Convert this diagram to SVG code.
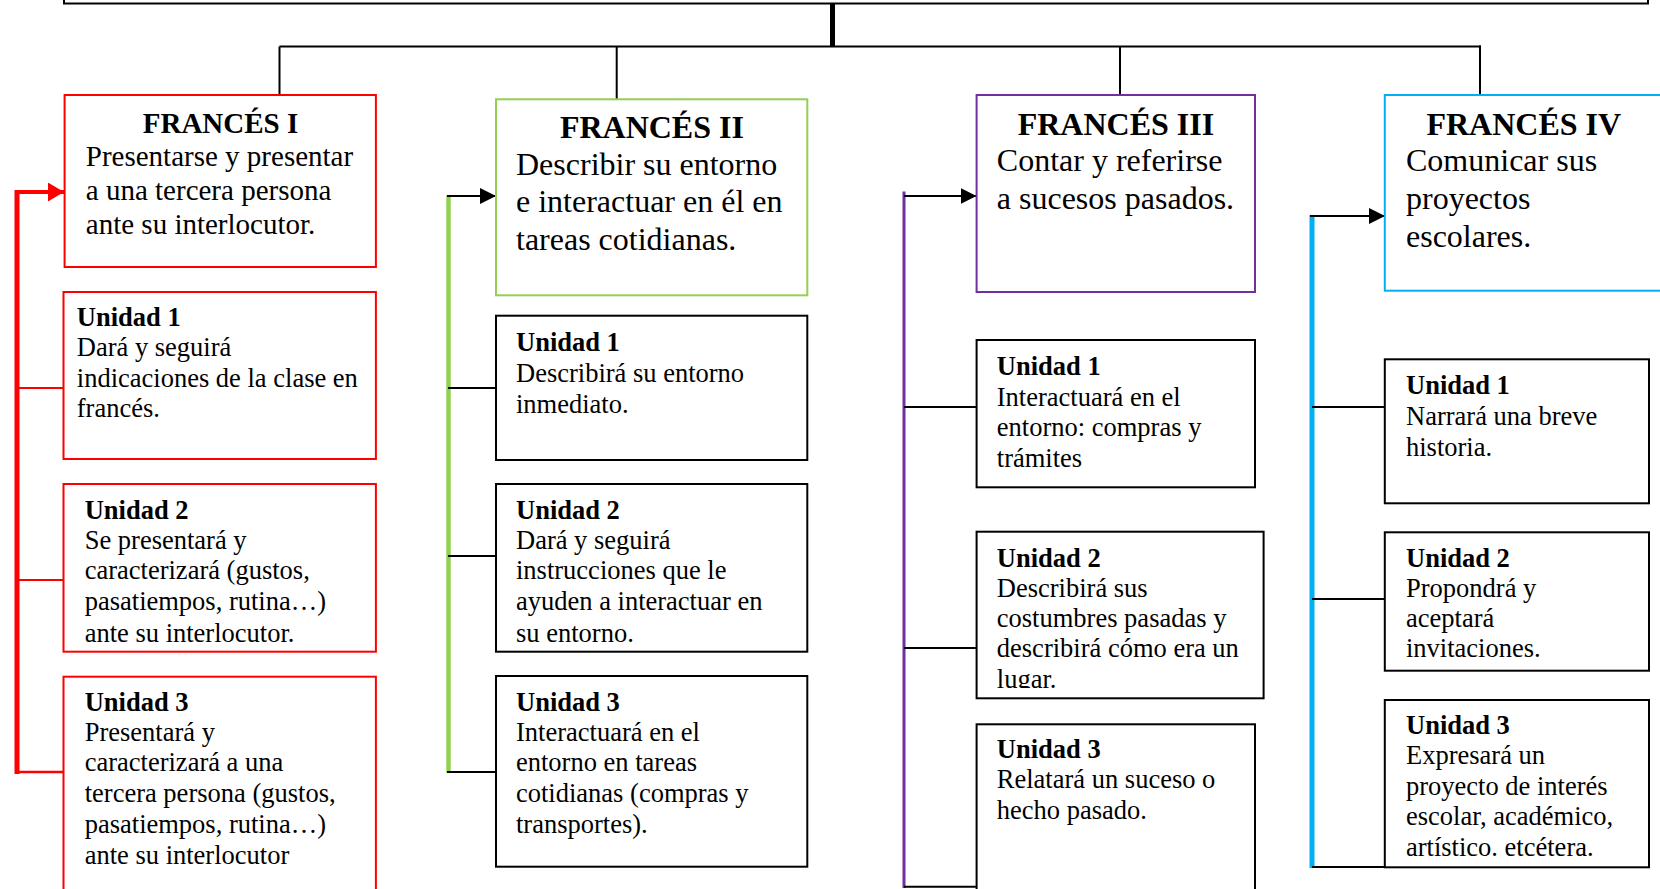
<svg xmlns="http://www.w3.org/2000/svg" width="1660" height="889" viewBox="0 0 1660 889">
  <style>
    text { font-family: "Liberation Serif", "Times New Roman", serif; fill: #000; }
    .title1 { font-size: 29px; font-weight: bold; text-anchor: middle; }
    .title { font-size: 32px; font-weight: bold; text-anchor: middle; }
    .body1 { font-size: 29px; }
    .body { font-size: 32px; }
    .unit { font-size: 26.5px; }
    .unit .h { font-weight: bold; }
    .box { fill: #fff; stroke-width: 2; }
    .k { stroke: #000; }
    .red { stroke: #ff0000; }
    .green { stroke: #92d050; }
    .purple { stroke: #7030a0; }
    .cyan { stroke: #00b0f0; }
    .line { fill: none; stroke: #000; stroke-width: 2; }
  </style>
  <defs>
    <marker id="arrowRed" markerUnits="userSpaceOnUse" markerWidth="16" markerHeight="19" refX="16" refY="9.5" orient="auto">
      <path d="M0,0 L16,9.5 L0,19 z" fill="#ff0000"/>
    </marker>
    <marker id="arrowBlack" markerUnits="userSpaceOnUse" markerWidth="16" markerHeight="16" refX="16" refY="8" orient="auto">
      <path d="M0,0 L16,8 L0,16 z" fill="#000"/>
    </marker>
    <clipPath id="clipF3U2">
      <rect x="977" y="532" width="286" height="156"/>
    </clipPath>
  </defs>

  <rect width="1660" height="889" fill="#fff"/>

  <!-- connectors -->
  <g id="connectors">
    <!-- trunk from the top box to the bus -->
    <line x1="832.5" y1="3" x2="832.5" y2="47" stroke="#000" stroke-width="5"/>
    <line class="line" x1="279.5" y1="46.5" x2="1481" y2="46.5"/>
    <line class="line" x1="279.5" y1="46.5" x2="279.5" y2="95"/>
    <line class="line" x1="616.7" y1="46.5" x2="616.7" y2="99"/>
    <line class="line" x1="1120" y1="46.5" x2="1120" y2="95"/>
    <line class="line" x1="1480" y1="45.5" x2="1480" y2="95"/>

    <!-- Francés I spine (red) -->
    <line x1="17" y1="190" x2="17" y2="774" stroke="#ff0000" stroke-width="5"/>
    <line x1="15" y1="192" x2="64" y2="192" stroke="#ff0000" stroke-width="4" marker-end="url(#arrowRed)"/>
    <line x1="17" y1="388" x2="64" y2="388" stroke="#ff0000" stroke-width="2"/>
    <line x1="17" y1="580" x2="64" y2="580" stroke="#ff0000" stroke-width="2"/>
    <line x1="15" y1="772" x2="64" y2="772" stroke="#ff0000" stroke-width="2.5"/>

    <!-- Francés II spine (green) -->
    <line x1="448.5" y1="195" x2="448.5" y2="773" stroke="#92d050" stroke-width="4.5"/>
    <line class="line" x1="447" y1="196" x2="496" y2="196" stroke-width="2.5" marker-end="url(#arrowBlack)"/>
    <line class="line" x1="448" y1="388" x2="496" y2="388"/>
    <line class="line" x1="448" y1="556" x2="496" y2="556"/>
    <line class="line" x1="447" y1="772" x2="496" y2="772" stroke-width="2.5"/>

    <!-- Francés III spine (purple) -->
    <line x1="904" y1="191.5" x2="904" y2="888" stroke="#7030a0" stroke-width="3"/>
    <line class="line" x1="904" y1="196" x2="976.5" y2="196" stroke-width="2.5" marker-end="url(#arrowBlack)"/>
    <line class="line" x1="904" y1="407" x2="977" y2="407"/>
    <line class="line" x1="904" y1="648" x2="977" y2="648"/>
    <line class="line" x1="904" y1="886.7" x2="977" y2="886.7"/>

    <!-- Francés IV spine (cyan) -->
    <line x1="1312" y1="215" x2="1312" y2="868" stroke="#00b0f0" stroke-width="5"/>
    <line class="line" x1="1310" y1="216" x2="1385" y2="216" stroke-width="2.5" marker-end="url(#arrowBlack)"/>
    <line class="line" x1="1312" y1="407" x2="1385" y2="407"/>
    <line class="line" x1="1312" y1="599" x2="1385" y2="599"/>
    <line class="line" x1="1312" y1="867" x2="1385" y2="867"/>
  </g>

  <!-- top box (mostly above the page edge) -->
  <g id="top-box">
    <rect class="box k" x="64" y="-40" width="1584" height="43.5"/>
  </g>

  <!-- Francés I -->
  <g id="frances-1">
    <rect class="box red" x="64.6" y="95" width="311.3" height="172"/>
    <text class="title1" x="220.5" y="132.7">FRANCÉS I</text>
    <text class="body1" x="85.8" y="165.7">Presentarse y presentar</text>
    <text class="body1" x="85.8" y="200">a una tercera persona</text>
    <text class="body1" x="85.8" y="234.3">ante su interlocutor.</text>
  </g>
  <g id="frances-1-unidad-1">
    <rect class="box red" x="63.5" y="292" width="312.4" height="167"/>
    <text class="unit" x="76.8"><tspan class="h" x="76.8" y="325.7">Unidad 1</tspan><tspan x="76.8" y="356">Dará y seguirá</tspan><tspan x="76.8" y="386.5">indicaciones de la clase en</tspan><tspan x="76.8" y="417">francés.</tspan></text>
  </g>
  <g id="frances-1-unidad-2">
    <rect class="box red" x="63.5" y="484" width="312.4" height="167.7"/>
    <text class="unit"><tspan class="h" x="84.7" y="519.3">Unidad 2</tspan><tspan x="84.7" y="549.3">Se presentará y</tspan><tspan x="84.7" y="579.3">caracterizará (gustos,</tspan><tspan x="84.7" y="610">pasatiempos, rutina…)</tspan><tspan x="84.7" y="641.7">ante su interlocutor.</tspan></text>
  </g>
  <g id="frances-1-unidad-3">
    <rect class="box red" x="63.5" y="676.7" width="312.4" height="230"/>
    <text class="unit"><tspan class="h" x="84.7" y="711">Unidad 3</tspan><tspan x="84.7" y="741">Presentará y</tspan><tspan x="84.7" y="771">caracterizará a una</tspan><tspan x="84.7" y="801.7">tercera persona (gustos,</tspan><tspan x="84.7" y="833.3">pasatiempos, rutina…)</tspan><tspan x="84.7" y="864">ante su interlocutor</tspan></text>
  </g>

  <!-- Francés II -->
  <g id="frances-2">
    <rect class="box green" x="496" y="99.3" width="311.3" height="196"/>
    <text class="title" x="651.9" y="138.3">FRANCÉS II</text>
    <text class="body" x="516" y="175">Describir su entorno</text>
    <text class="body" x="516" y="212.3">e interactuar en él en</text>
    <text class="body" x="516" y="250">tareas cotidianas.</text>
  </g>
  <g id="frances-2-unidad-1">
    <rect class="box k" x="496" y="315.7" width="311.3" height="144.3"/>
    <text class="unit"><tspan class="h" x="516" y="350.7">Unidad 1</tspan><tspan x="516" y="381.5">Describirá su entorno</tspan><tspan x="516" y="412.5">inmediato.</tspan></text>
  </g>
  <g id="frances-2-unidad-2">
    <rect class="box k" x="496" y="484" width="311.3" height="167.7"/>
    <text class="unit"><tspan class="h" x="516" y="519.3">Unidad 2</tspan><tspan x="516" y="549.3">Dará y seguirá</tspan><tspan x="516" y="579.3">instrucciones que le</tspan><tspan x="516" y="610">ayuden a interactuar en</tspan><tspan x="516" y="641.7">su entorno.</tspan></text>
  </g>
  <g id="frances-2-unidad-3">
    <rect class="box k" x="496" y="676" width="311.3" height="190.7"/>
    <text class="unit"><tspan class="h" x="516" y="711">Unidad 3</tspan><tspan x="516" y="741">Interactuará en el</tspan><tspan x="516" y="771">entorno en tareas</tspan><tspan x="516" y="801.7">cotidianas (compras y</tspan><tspan x="516" y="833.3">transportes).</tspan></text>
  </g>

  <!-- Francés III -->
  <g id="frances-3">
    <rect class="box purple" x="976.6" y="95" width="278.4" height="197"/>
    <text class="title" x="1115.9" y="135">FRANCÉS III</text>
    <text class="body" x="996.8" y="171">Contar y referirse</text>
    <text class="body" x="996.8" y="209">a sucesos pasados.</text>
  </g>
  <g id="frances-3-unidad-1">
    <rect class="box k" x="976.6" y="340" width="278.4" height="147.3"/>
    <text class="unit"><tspan class="h" x="996.8" y="374.5">Unidad 1</tspan><tspan x="996.8" y="405.5">Interactuará en el</tspan><tspan x="996.8" y="436">entorno: compras y</tspan><tspan x="996.8" y="466.5">trámites</tspan></text>
  </g>
  <g id="frances-3-unidad-2">
    <rect class="box k" x="976.6" y="531.7" width="287" height="166.6"/>
    <text class="unit" clip-path="url(#clipF3U2)"><tspan class="h" x="996.8" y="567.3">Unidad 2</tspan><tspan x="996.8" y="596.7">Describirá sus</tspan><tspan x="996.8" y="626.7">costumbres pasadas y</tspan><tspan x="996.8" y="657.3">describirá cómo era un</tspan><tspan x="996.8" y="687.5">lugar.</tspan></text>
  </g>
  <g id="frances-3-unidad-3">
    <rect class="box k" x="976.6" y="724.3" width="278.4" height="200"/>
    <text class="unit"><tspan class="h" x="996.8" y="758.3">Unidad 3</tspan><tspan x="996.8" y="788.3">Relatará un suceso o</tspan><tspan x="996.8" y="819.3">hecho pasado.</tspan></text>
  </g>

  <!-- Francés IV -->
  <g id="frances-4">
    <rect class="box cyan" x="1384.8" y="95" width="300" height="195.7"/>
    <text class="title" x="1523.8" y="135">FRANCÉS IV</text>
    <text class="body" x="1406" y="171">Comunicar sus</text>
    <text class="body" x="1406" y="209">proyectos</text>
    <text class="body" x="1406" y="246.7">escolares.</text>
  </g>
  <g id="frances-4-unidad-1">
    <rect class="box k" x="1384.8" y="359.3" width="264.2" height="144"/>
    <text class="unit"><tspan class="h" x="1406" y="394.3">Unidad 1</tspan><tspan x="1406" y="425">Narrará una breve</tspan><tspan x="1406" y="456">historia.</tspan></text>
  </g>
  <g id="frances-4-unidad-2">
    <rect class="box k" x="1384.8" y="532.3" width="264.2" height="138.4"/>
    <text class="unit"><tspan class="h" x="1406" y="567.3">Unidad 2</tspan><tspan x="1406" y="596.7">Propondrá y</tspan><tspan x="1406" y="626.7">aceptará</tspan><tspan x="1406" y="657.3">invitaciones.</tspan></text>
  </g>
  <g id="frances-4-unidad-3">
    <rect class="box k" x="1384.8" y="700" width="264.2" height="167.3"/>
    <text class="unit"><tspan class="h" x="1406" y="734">Unidad 3</tspan><tspan x="1406" y="764">Expresará un</tspan><tspan x="1406" y="795">proyecto de interés</tspan><tspan x="1406" y="825">escolar, académico,</tspan><tspan x="1406" y="856">artístico. etcétera.</tspan></text>
  </g>
</svg>
